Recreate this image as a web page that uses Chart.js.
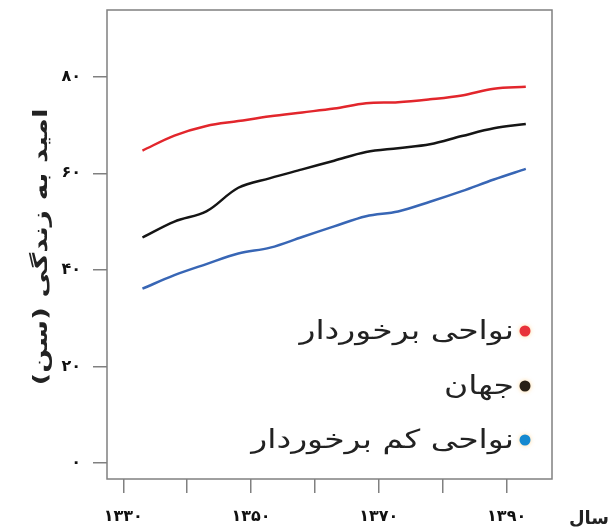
<!DOCTYPE html>
<html lang="fa">
<head>
<meta charset="utf-8">
<script src="https://cdn.jsdelivr.net/npm/chart.js@4.4.1/dist/chart.umd.min.js"></script>
<style>
    html, body { margin: 0; padding: 0; background: #fff; }
</style>
</head>
<body>
<canvas id="chart" width="612" height="530"></canvas>
<script>
// years (solar hijri) and life expectancy values
var years         = [1333, 1338, 1343, 1348, 1353, 1358, 1363, 1368, 1373, 1378, 1383, 1388, 1393];
var developed     = [64.7, 67.8, 69.8, 70.8, 71.8, 72.6, 73.4, 74.5, 74.7, 75.3, 76.1, 77.5, 77.9];
var world         = [46.7, 50.0, 52.1, 57.0, 59.0, 60.8, 62.6, 64.4, 65.2, 66.0, 67.7, 69.3, 70.2];
var lessDeveloped = [36.1, 38.9, 41.2, 43.4, 44.6, 46.8, 49.0, 51.1, 52.1, 54.1, 56.3, 58.7, 60.9];

var seriesNames   = ['نواحی برخوردار', 'جهان', 'نواحی کم برخوردار'];
var labeledYears  = [1330, 1350, 1370, 1390];
var yTitle        = 'امید به زندگی (سن)';
var xTitle        = 'سال';

var faDigits = '۰۱۲۳۴۵۶۷۸۹';
function toFa(n) {
    return String(n).replace(/\d/g, function (d) { return faDigits[d]; });
}

function points(values) {
    return years.map(function (x, i) { return {x: x, y: values[i]}; });
}

var lineColors = ['#e2262c', '#151515', '#3866b5'];
var dotColors  = ['#e8323a', '#2a2116', '#1689d0'];
var axisColor  = '#808080';

// frame, legend and axis titles drawn by hand
var decor = {
    id: 'decor',
    afterDraw: function (chart) {
        var ctx = chart.ctx;
        var a = chart.chartArea;
        ctx.save();
        ctx.strokeStyle = axisColor;
        ctx.lineWidth = 1.5;
        ctx.strokeRect(a.left, a.top, a.right - a.left, a.bottom - a.top);

        // legend inside the plot, right aligned (text stretched a bit to match the naskh face)
        var rows = [331, 386, 440];
        seriesNames.forEach(function (name, i) {
            ctx.save();
            ctx.shadowColor = 'rgba(255,190,90,0.6)';
            ctx.shadowBlur = 4;
            ctx.fillStyle = dotColors[i];
            ctx.beginPath();
            ctx.arc(525, rows[i], 5.5, 0, Math.PI * 2);
            ctx.fill();
            ctx.restore();

            ctx.save();
            ctx.font = '26px "DejaVu Sans"';
            ctx.textAlign = 'right';
            ctx.textBaseline = 'middle';
            ctx.direction = 'rtl';
            ctx.fillStyle = '#222';
            ctx.translate(514, rows[i] + 1);
            ctx.scale(1.27, 1);
            ctx.fillText(name, 0, 0);
            ctx.restore();
        });

        // y title, rotated
        ctx.font = 'bold 20px "DejaVu Sans"';
        ctx.fillStyle = '#222';
        ctx.textAlign = 'center';
        ctx.textBaseline = 'middle';
        ctx.direction = 'rtl';
        ctx.translate(42, 247);
        ctx.rotate(-Math.PI / 2);
        ctx.scale(1.4, 1);
        ctx.fillText(yTitle, 0, 0);
        ctx.restore();

        // x title
        ctx.save();
        ctx.font = 'bold 18px "DejaVu Sans"';
        ctx.fillStyle = '#222';
        ctx.textAlign = 'right';
        ctx.textBaseline = 'middle';
        ctx.direction = 'rtl';
        ctx.fillText(xTitle, 609, 519);
        ctx.restore();
    }
};

var tickFont = {family: '"DejaVu Sans"', size: 16, weight: 'bold'};

new Chart(document.getElementById('chart'), {
    type: 'line',
    data: {
        datasets: [
            {label: seriesNames[0], data: points(developed),     borderColor: lineColors[0]},
            {label: seriesNames[1], data: points(world),         borderColor: lineColors[1]},
            {label: seriesNames[2], data: points(lessDeveloped), borderColor: lineColors[2]}
        ]
    },
    options: {
        responsive: false,
        devicePixelRatio: 1,
        animation: false,
        layout: {padding: {left: 0, top: 10, right: 60, bottom: 0}},
        elements: {
            line: {borderWidth: 2.5, tension: 0.35, fill: false},
            point: {radius: 0}
        },
        plugins: {
            legend: {display: false},
            tooltip: {enabled: false}
        },
        scales: {
            x: {
                type: 'linear',
                min: 1327.45,
                max: 1397.1,
                afterFit: function (s) { s.height = 51; s.paddingLeft = 0; s.paddingRight = 0; },
                border: {display: false},
                grid: {drawOnChartArea: false, drawTicks: true, tickLength: 14, color: axisColor, lineWidth: 1.5},
                ticks: {
                    stepSize: 10,
                    includeBounds: false,
                    autoSkip: false,
                    maxRotation: 0,
                    padding: 14,
                    color: '#111',
                    font: tickFont,
                    callback: function (v) {
                        return labeledYears.indexOf(v) >= 0 ? toFa(v) : '';
                    }
                }
            },
            y: {
                min: -3.3,
                max: 93.8,
                afterFit: function (s) { s.width = 107; s.paddingTop = 0; s.paddingBottom = 0; },
                border: {display: false},
                grid: {drawOnChartArea: false, drawTicks: true, tickLength: 14, color: axisColor, lineWidth: 1.5},
                ticks: {
                    stepSize: 20,
                    includeBounds: false,
                    padding: 12,
                    color: '#111',
                    font: tickFont,
                    callback: function (v) { return toFa(v); }
                }
            }
        }
    },
    plugins: [decor]
});
</script>
</body>
</html>
